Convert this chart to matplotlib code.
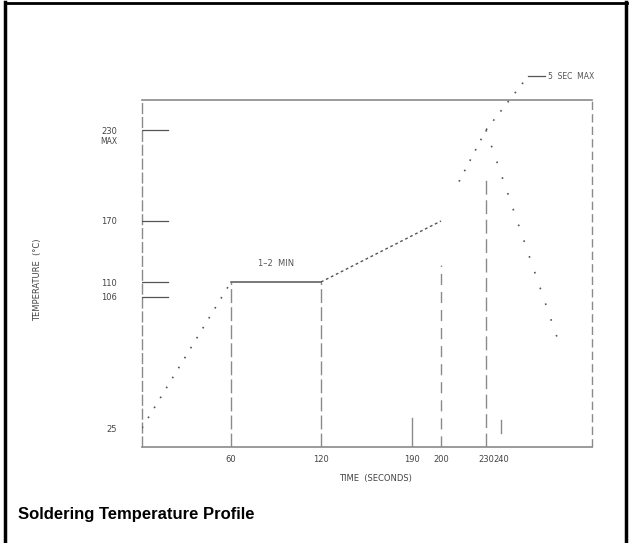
import numpy as np
import matplotlib
matplotlib.use("Agg")
import matplotlib.pyplot as plt
from matplotlib.lines import Line2D

# ---------------- data ----------------
preheat_time = [0, 60]
preheat_temp = [25, 110]
soak_time = [60, 120]
soak_temp = [110, 110]
ramp_time = [120, 200]
ramp_temp = [110, 170]
reflow_time = [212, 230, 258]
reflow_temp = [196, 230, 266]
cool_time = [230, 277]
cool_temp = [230, 81]

x_ticks = [60, 120, 190, 200, 230, 240]
x_ticklabels = ["60", "120", "190", "200", "230", "240"]
y_ticks = [25, 106, 110, 170, 230]
y_ticklabels = ["25", "106", "110", "170", "230"]

# ---------------- schematic (non-linear) scales ----------------
time_knots = [0, 60, 120, 190, 200, 230, 240, 300]
time_pos = [0, 89, 179, 270, 299, 344, 359, 450]
temp_knots = [13, 25, 106, 110, 170, 230, 250, 280]
temp_pos = [0, 19, 150, 165, 226, 317, 347, 392]


def piecewise(xk, yk):
    xk = np.asarray(xk, float)
    yk = np.asarray(yk, float)

    def f(v):
        v = np.asarray(v, float)
        out = np.interp(v, xk, yk)
        sl = (yk[1] - yk[0]) / (xk[1] - xk[0])
        sr = (yk[-1] - yk[-2]) / (xk[-1] - xk[-2])
        out = np.where(v < xk[0], yk[0] + (v - xk[0]) * sl, out)
        out = np.where(v > xk[-1], yk[-1] + (v - xk[-1]) * sr, out)
        return out
    return f


W, H = 633, 543
fig = plt.figure(figsize=(W / 100, H / 100), dpi=100)
fig.patch.set_facecolor("white")

ax = fig.add_axes([142 / W, 1 - 447 / H, 450 / W, 392 / H])
ax.set_xscale("function", functions=(piecewise(time_knots, time_pos),
                                      piecewise(time_pos, time_knots)))
ax.set_yscale("function", functions=(piecewise(temp_knots, temp_pos),
                                      piecewise(temp_pos, temp_knots)))
ax.set_xlim(0, 300)
ax.set_ylim(13, 280)
for s in ax.spines.values():
    s.set_visible(False)

gray = "#8a8a8a"
dark = "#555555"

# frame of the plot
ax.plot([0, 300], [250, 250], color=gray, lw=1.2, clip_on=False)
ax.plot([0, 300], [13, 13], color=gray, lw=1.2, clip_on=False)
ax.plot([0, 0], [13, 250], color=gray, lw=1.0, ls=(0, (8, 2)), clip_on=False)
ax.plot([300, 300], [13, 250], color=gray, lw=1.0, ls=(0, (6, 3)),
        clip_on=False)

# y tick marks drawn inward
for t in [230, 170, 110, 106]:
    ax.plot([0, 17.5], [t, t], color=dark, lw=0.9)

# vertical guide lines
ax.plot([60, 60], [13, 110], color=gray, lw=1.0, ls=(0, (10, 3)))
ax.plot([120, 120], [13, 110], color=gray, lw=1.0, ls=(0, (10, 3)))
ax.plot([190, 190], [13, 31], color=gray, lw=1.0)
ax.plot([200, 200], [13, 127], color=gray, lw=1.0, ls=(0, (8, 5)))
ax.plot([230, 230], [13, 197], color=gray, lw=1.0, ls=(0, (10, 4)))
ax.plot([240, 240], [22, 30], color=gray, lw=1.0)

# temperature profile
ax.plot(preheat_time, preheat_temp, color=dark, lw=1.2, ls=(0, (1, 6)))
ax.plot(soak_time, soak_temp, color=dark, lw=1.1)
ax.plot(ramp_time, ramp_temp, color=dark, lw=1.0, ls=(0, (2, 2)))
ax.plot(reflow_time, reflow_temp, color=dark, lw=1.2, ls=(0, (1, 6)),
        clip_on=False)
ax.plot(cool_time, cool_temp, color=dark, lw=1.2, ls=(0, (1, 9)))

# ticks
ax.set_xticks(x_ticks)
ax.set_xticklabels(x_ticklabels)
ax.set_yticks(y_ticks)
ax.set_yticklabels(y_ticklabels)
ax.tick_params(axis="x", length=0, pad=6, labelsize=6, labelcolor="#444444")
ax.tick_params(axis="y", length=0, pad=18, labelsize=6, labelcolor="#444444")
ax.annotate("MAX", xy=(0, 230), xycoords=("axes fraction", "data"),
            xytext=(-18, -8.5), textcoords="offset points",
            ha="right", va="center", fontsize=5.5, color="#444444")

# annotations
ax.text(90, 128, "1\u20132  MIN", ha="center", va="center",
        fontsize=6, color="#555555")
ax.plot([258, 269], [266, 266], color=dark, lw=0.9, clip_on=False)
ax.text(271, 266, "5  SEC  MAX", ha="left", va="center",
        fontsize=5.5, color="#555555", clip_on=False)

# axis labels
fig.text(38 / W, 1 - 280 / H, "TEMPERATURE  (\u00b0C)", rotation=90,
         ha="center", va="center", fontsize=6, color="#444444")
fig.text(375 / W, 1 - 478 / H, "TIME  (SECONDS)", ha="center", va="center",
         fontsize=6, color="#444444")

# title
fig.text(18 / W, 1 - 515 / H, "Soldering Temperature Profile",
         ha="left", va="center", fontsize=12, fontweight="bold",
         family=["Liberation Sans", "DejaVu Sans"], color="black")

# outer border of the figure box
fig.add_artist(Line2D([5 / W, 5 / W], [0, 1 - 2 / H], transform=fig.transFigure,
                      color="black", lw=2.5))
fig.add_artist(Line2D([5 / W, 627 / W], [1 - 3 / H, 1 - 3 / H],
                      transform=fig.transFigure, color="black", lw=2.0))
fig.add_artist(Line2D([626 / W, 626 / W], [0, 1 - 2 / H],
                      transform=fig.transFigure, color="black", lw=2.5))

fig.savefig("out.png", dpi=100, facecolor="white")
